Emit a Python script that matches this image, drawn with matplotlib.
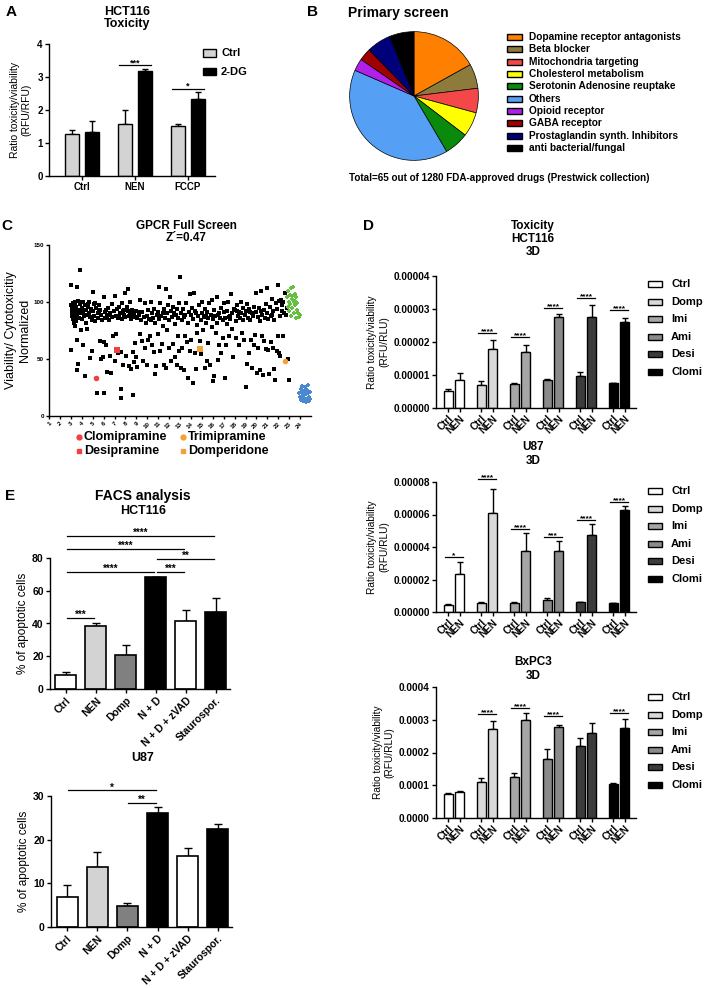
import matplotlib
matplotlib.use("Agg")
import matplotlib.pyplot as plt
from matplotlib.patches import Rectangle
from matplotlib.lines import Line2D
from matplotlib.ticker import FormatStrFormatter
import numpy as np

plt.rcParams['font.family'] = ['Liberation Sans', 'DejaVu Sans']
plt.rcParams['font.weight'] = 'bold'
plt.rcParams['axes.linewidth'] = 1.0

# ---------------- data ----------------
# A: HCT116 toxicity
a_groups = ['Ctrl', 'NEN', 'FCCP']
a_ctrl = [1.28, 1.57, 1.53]
a_ctrl_err = [0.10, 0.43, 0.05]
a_2dg = [1.33, 3.17, 2.32]
a_2dg_err = [0.35, 0.08, 0.22]
a_sig = [(1, 3.35, '***'), (2, 2.65, '*')]

# B: primary screen pie
b_labels = ['Dopamine receptor antagonists', 'Beta blocker', 'Mitochondria targeting',
            'Cholesterol metabolism', 'Serotonin Adenosine reuptake', 'Others',
            'Opioid receptor', 'GABA receptor', 'Prostaglandin synth. Inhibitors',
            'anti bacterial/fungal']
b_counts = [11, 4, 4, 4, 4, 26, 2, 2, 4, 4]
b_colors = ['#FF8000', '#8C7B3A', '#F44848', '#FFFF00', '#0A8A0A', '#55A0F5',
            '#B020E8', '#A00000', '#00007A', '#000000']

# C: GPCR full screen (plate column, normalized viability)
gpcr_hits = [
    (3.0, 115), (3.0, 58), (3.05, 97), (3.1, 92), (3.1, 88), (3.15, 95), (3.2, 85), (3.2, 99),
    (3.25, 90), (3.3, 82), (3.3, 94), (3.35, 87), (3.4, 100), (3.4, 79), (3.45, 92), (3.5, 96),
    (3.5, 84), (3.55, 89), (3.6, 113), (3.6, 40), (3.6, 67), (3.65, 101), (3.7, 46), (3.7, 93),
    (3.75, 86), (3.8, 98), (3.85, 128), (3.9, 90), (3.9, 75), (3.95, 100), (3.15, 91), (3.35, 97),
    (3.55, 93), (3.75, 91), (3.25, 86), (3.45, 83),
    (4.0, 95), (4.05, 85), (4.1, 62), (4.1, 100), (4.15, 91), (4.2, 88), (4.3, 35), (4.3, 97),
    (4.35, 82), (4.4, 93), (4.5, 76), (4.5, 89), (4.6, 96), (4.7, 100), (4.75, 87), (4.8, 51),
    (4.85, 94), (4.9, 57), (4.95, 84), (4.25, 93), (4.55, 98), (4.65, 90),
    (5.0, 109), (5.05, 92), (5.1, 98), (5.15, 88), (5.25, 83), (5.3, 95), (5.4, 20), (5.45, 90),
    (5.5, 86), (5.6, 97), (5.65, 66), (5.7, 93), (5.75, 50), (5.8, 89), (5.9, 84), (5.95, 52),
    (5.2, 99), (5.55, 92),
    (6.0, 20), (6.0, 104), (6.05, 65), (6.1, 91), (6.15, 86), (6.2, 62), (6.3, 88), (6.35, 39),
    (6.4, 95), (6.5, 84), (6.55, 53), (6.6, 90), (6.7, 38), (6.75, 98), (6.8, 87), (6.9, 70),
    (6.95, 92), (6.25, 93), (6.45, 89),
    (7.0, 105), (7.05, 48), (7.1, 88), (7.15, 72), (7.2, 94), (7.3, 86), (7.35, 55), (7.4, 96),
    (7.5, 90), (7.55, 56), (7.6, 24), (7.6, 16), (7.65, 85), (7.7, 99), (7.8, 45), (7.85, 89),
    (7.9, 93), (7.95, 108), (7.45, 87), (7.75, 92),
    (8.0, 87), (8.05, 53), (8.1, 96), (8.2, 92), (8.25, 111), (8.3, 44), (8.35, 88), (8.4, 100),
    (8.5, 85), (8.55, 41), (8.6, 93), (8.7, 18), (8.7, 56), (8.75, 90), (8.8, 47), (8.85, 64),
    (8.9, 87), (8.95, 52), (8.45, 91), (8.65, 89),
    (9.0, 92), (9.05, 43), (9.1, 86), (9.2, 89), (9.3, 102), (9.35, 72), (9.4, 84), (9.5, 66),
    (9.55, 91), (9.6, 48), (9.7, 87), (9.75, 60), (9.8, 99), (9.9, 82), (9.95, 45), (9.25, 91),
    (10.0, 88), (10.05, 67), (10.1, 93), (10.2, 85), (10.25, 70), (10.3, 100), (10.4, 62),
    (10.45, 90), (10.5, 86), (10.6, 56), (10.65, 94), (10.7, 37), (10.75, 82), (10.8, 44),
    (10.9, 89), (10.95, 72), (10.35, 84),
    (11.0, 91), (11.05, 113), (11.1, 85), (11.15, 57), (11.2, 99), (11.3, 88), (11.35, 63),
    (11.4, 79), (11.5, 94), (11.55, 45), (11.6, 86), (11.7, 111), (11.75, 42), (11.8, 90),
    (11.85, 75), (11.9, 97), (11.95, 60), (11.45, 90),
    (12.0, 84), (12.1, 104), (12.15, 48), (12.2, 92), (12.3, 87), (12.35, 63), (12.4, 96),
    (12.5, 81), (12.55, 52), (12.6, 89), (12.7, 45), (12.75, 94), (12.8, 70), (12.85, 86),
    (12.9, 57), (12.95, 99), (12.45, 90),
    (13.0, 122), (13.05, 42), (13.1, 90), (13.15, 84), (13.2, 60), (13.3, 94), (13.35, 40),
    (13.4, 87), (13.5, 70), (13.55, 99), (13.6, 65), (13.7, 82), (13.75, 33), (13.8, 91),
    (13.9, 107), (13.95, 57), (13.45, 89),
    (14.0, 89), (14.05, 67), (14.1, 95), (14.15, 29), (14.2, 85), (14.3, 108), (14.35, 55),
    (14.4, 92), (14.5, 41), (14.55, 80), (14.6, 73), (14.65, 88), (14.75, 97), (14.8, 66),
    (14.9, 84), (14.95, 54), (14.45, 90),
    (15.0, 90), (15.05, 100), (15.1, 75), (15.2, 87), (15.25, 42), (15.3, 94), (15.4, 82),
    (15.45, 48), (15.5, 91), (15.55, 64), (15.6, 86), (15.7, 99), (15.75, 45), (15.8, 89),
    (15.9, 78), (15.95, 102), (15.35, 88),
    (16.0, 85), (16.05, 31), (16.1, 93), (16.15, 35), (16.2, 88), (16.3, 73), (16.35, 104),
    (16.4, 82), (16.5, 49), (16.55, 90), (16.6, 62), (16.7, 86), (16.75, 55), (16.8, 95),
    (16.9, 84), (16.95, 68), (16.45, 89),
    (17.0, 91), (17.05, 99), (17.1, 33), (17.15, 86), (17.2, 62), (17.3, 92), (17.35, 81),
    (17.4, 100), (17.5, 70), (17.55, 88), (17.6, 85), (17.7, 107), (17.75, 76), (17.8, 90),
    (17.9, 52), (17.95, 94), (17.45, 87),
    (18.0, 93), (18.1, 83), (18.15, 68), (18.2, 97), (18.3, 88), (18.4, 62), (18.45, 91),
    (18.5, 86), (18.6, 100), (18.7, 73), (18.75, 84), (18.8, 95), (18.9, 67), (18.95, 89),
    (18.25, 92), (18.55, 90),
    (19.0, 92), (19.05, 25), (19.1, 98), (19.15, 46), (19.2, 86), (19.3, 94), (19.35, 55),
    (19.4, 84), (19.5, 67), (19.55, 90), (19.6, 42), (19.7, 88), (19.75, 62), (19.8, 96),
    (19.9, 71), (19.95, 108), (19.45, 91),
    (20.0, 91), (20.05, 38), (20.1, 87), (20.15, 60), (20.2, 95), (20.3, 40), (20.35, 83),
    (20.4, 110), (20.5, 89), (20.55, 70), (20.6, 36), (20.65, 93), (20.7, 66), (20.8, 86),
    (20.85, 59), (20.9, 98), (20.95, 112), (20.45, 92),
    (21.0, 90), (21.05, 58), (21.1, 85), (21.15, 37), (21.2, 96), (21.3, 65), (21.35, 88),
    (21.4, 103), (21.5, 60), (21.55, 92), (21.6, 41), (21.65, 84), (21.7, 32), (21.8, 99),
    (21.85, 57), (21.9, 94), (21.95, 70), (21.45, 89),
    (22.0, 115), (22.05, 55), (22.1, 101), (22.15, 88), (22.2, 53), (22.3, 97), (22.35, 92),
    (22.4, 70), (22.45, 100), (22.5, 90), (22.6, 108), (22.7, 89), (22.8, 95), (22.9, 50),
    (22.95, 32), (22.25, 102),
]
gpcr_pos_ctrl = [
    (22.8, 104), (22.85, 96), (22.9, 110), (22.95, 100), (23.0, 92), (23.05, 106), (23.1, 98),
    (23.15, 88), (23.2, 112), (23.25, 103), (23.3, 95), (23.35, 113), (23.4, 100), (23.45, 90),
    (23.5, 107), (23.55, 97), (23.6, 104), (23.65, 86), (23.7, 99), (23.75, 93), (23.8, 90),
    (23.9, 87), (24.0, 89), (23.3, 105), (23.5, 101),
]
gpcr_neg_ctrl = [
    (23.9, 20), (24.0, 17), (24.05, 24), (24.1, 14), (24.15, 21), (24.2, 26), (24.25, 18),
    (24.3, 13), (24.35, 22), (24.4, 16), (24.45, 25), (24.5, 19), (24.55, 12), (24.6, 23),
    (24.65, 15), (24.7, 20), (24.75, 27), (24.8, 17), (24.85, 13), (24.9, 21), (24.95, 15),
]
gpcr_named = [('Clomipramine', 5.3, 33, 'o', '#F04040'),
              ('Desipramine', 7.25, 58, 's', '#F04040'),
              ('Trimipramine', 22.6, 48, 'o', '#F5A030'),
              ('Domperidone', 14.8, 58.5, 's', '#F0A040')]

# D: 3D toxicity, Ctrl vs NEN for each drug
d_groups = ['Ctrl', 'Domp', 'Imi', 'Ami', 'Desi', 'Clomi']
d_colors = ['#FFFFFF', '#D9D9D9', '#A6A6A6', '#8A8A8A', '#3C3C3C', '#000000']

hct_ctrl = [0.0000053, 0.0000070, 0.0000073, 0.0000086, 0.0000098, 0.0000075]
hct_ctrl_err = [0.0000005, 0.0000012, 0.0000003, 0.0000003, 0.0000010, 0.0000002]
hct_nen = [0.0000085, 0.0000180, 0.0000170, 0.0000277, 0.0000277, 0.0000261]
hct_nen_err = [0.0000020, 0.0000025, 0.0000022, 0.0000007, 0.0000035, 0.0000013]
hct_sig = [(1, 0.0000226, '****'), (2, 0.0000216, '****'), (3, 0.0000302, '****'),
           (4, 0.0000332, '****'), (5, 0.0000297, '****')]

u87_ctrl = [0.0000045, 0.0000055, 0.0000055, 0.0000071, 0.0000061, 0.0000055]
u87_ctrl_err = [0.0000007, 0.0000008, 0.0000006, 0.0000015, 0.0000003, 0.0000003]
u87_nen = [0.0000233, 0.0000612, 0.0000378, 0.0000378, 0.0000473, 0.0000627]
u87_nen_err = [0.0000073, 0.0000143, 0.0000106, 0.0000059, 0.0000066, 0.0000026]
u87_sig = [(0, 0.0000337, '*'), (1, 0.0000816, '****'), (2, 0.0000508, '****'),
           (3, 0.0000463, '***'), (4, 0.0000565, '****'), (5, 0.0000678, '****')]

bx_ctrl = [0.0000745, 0.000110, 0.000126, 0.000179, 0.000219, 0.000104]
bx_ctrl_err = [0.0000025, 0.000012, 0.000010, 0.000033, 0.000025, 0.000002]
bx_nen = [0.0000800, 0.000273, 0.000298, 0.000277, 0.000259, 0.000276]
bx_nen_err = [0.0000030, 0.000023, 0.000022, 0.000007, 0.000032, 0.000027]
bx_sig = [(1, 0.000318, '****'), (2, 0.000336, '****'), (3, 0.000310, '****'),
          (5, 0.000321, '****')]

# E: FACS analysis
e_labels = ['Ctrl', 'NEN', 'Domp', 'N + D', 'N + D + zVAD', 'Staurospor.']
e_colors = ['#FFFFFF', '#D3D3D3', '#808080', '#000000', '#FFFFFF', '#000000']
e_hct = [8.5, 38.2, 20.7, 68.1, 41.5, 47.2]
e_hct_err = [2.1, 1.8, 6.3, 0.4, 6.7, 8.3]
e_hct_sig = [(0, 1, 43.3, '***'), (0, 3, 71.4, '****'), (3, 4, 71.4, '***'),
             (3, 5, 79.4, '**'), (0, 4, 85.5, '****'), (0, 5, 93.7, '****')]
e_u87 = [6.9, 13.8, 4.7, 26.1, 16.3, 22.5]
e_u87_err = [2.7, 3.4, 0.8, 1.4, 1.8, 1.2]
e_u87_sig = [(0, 3, 31.3, '*'), (2, 3, 28.4, '**')]

# ---------------- layout helpers ----------------
W, H = 709, 988
fig = plt.figure(figsize=(W / 100, H / 100), dpi=100)


def add_ax(l, t, r, b):
    return fig.add_axes([l / W, 1 - b / H, (r - l) / W, (b - t) / H])


def ftext(x, y, s, **kw):
    kw.setdefault('va', 'center')
    return fig.text(x / W, 1 - y / H, s, **kw)


def legend_box(x, y, w, h, color):
    fig.add_artist(Rectangle((x / W, 1 - (y + h / 2) / H), w / W, h / H,
                             transform=fig.transFigure, facecolor=color,
                             edgecolor='black', linewidth=1.0))


def prism(ax, fs=7):
    for s in ['top', 'right']:
        ax.spines[s].set_visible(False)
    ax.tick_params(width=1.0, length=3, labelsize=fs, pad=1.5)


def errbars(ax, x, y, err, capsize=2.5):
    ax.errorbar(x, y, yerr=[np.zeros(len(err)), err], fmt='none', ecolor='black',
                elinewidth=1.0, capsize=capsize, capthick=1.0, zorder=1)


def sig_line(ax, x1, x2, y, stars, fs=6.5, off=-1.5):
    ax.plot([x1, x2], [y, y], color='black', lw=0.9, clip_on=False)
    ax.annotate(stars, ((x1 + x2) / 2, y), xytext=(0, off), textcoords='offset points',
                ha='center', va='bottom', fontsize=fs, annotation_clip=False)


# ---------------- panel A ----------------
ftext(11, 12, 'A', fontsize=11, ha='center')
ftext(127, 18, 'HCT116\nToxicity', fontsize=9, ha='center', linespacing=1.1)
ax = add_ax(49, 44, 215, 176)
xa = np.arange(len(a_groups))
ax.bar(xa - 0.19, a_ctrl, 0.27, color='#D3D3D3', edgecolor='black', lw=1.0, zorder=2)
ax.bar(xa + 0.19, a_2dg, 0.27, color='black', edgecolor='black', lw=1.0, zorder=2)
errbars(ax, xa - 0.19, a_ctrl, a_ctrl_err)
errbars(ax, xa + 0.19, a_2dg, a_2dg_err)
for g, y, s in a_sig:
    sig_line(ax, g - 0.3, g + 0.3, y, s)
ax.set_xlim(-0.62, 2.51)
ax.set_ylim(0, 4)
ax.set_yticks([0, 1, 2, 3, 4])
ax.set_xticks(xa)
ax.set_xticklabels(a_groups, fontsize=7.5)
prism(ax)
ax.set_ylabel('Ratio toxicity/viability\n(RFU/RFU)', fontsize=7.5, fontweight='normal',
              labelpad=4)
legend_box(203, 53, 13, 7, '#D3D3D3')
legend_box(203, 72, 13, 7, 'black')
ftext(221, 53, 'Ctrl', fontsize=8)
ftext(221, 72, '2-DG', fontsize=8)

# ---------------- panel B ----------------
ftext(313, 12, 'B', fontsize=11, ha='center')
ftext(348, 13, 'Primary screen', fontsize=10)
ax = add_ax(349, 31, 479, 161)
ax.pie(b_counts, colors=b_colors, startangle=90, counterclock=False,
       wedgeprops=dict(edgecolor='black', linewidth=0.5))
ax.set_xlim(-1.01, 1.01)
ax.set_ylim(-1.01, 1.01)
ax.set_aspect('equal')
for i, (lab, col) in enumerate(zip(b_labels, b_colors)):
    y = 37 + 12.35 * i
    legend_box(507, y, 15, 6, col)
    ftext(529, y, lab, fontsize=7.3)
ftext(349, 178, 'Total=65 out of 1280 FDA-approved drugs (Prestwick collection)',
      fontsize=7.1)

# ---------------- panel C ----------------
ftext(7, 226, 'C', fontsize=11, ha='center')
ftext(186, 232, 'GPCR Full Screen\nZ\u00b4=0.47', fontsize=8.5, ha='center',
      linespacing=1.05)
ax = add_ax(49, 245, 311, 416)
hx, hy = zip(*gpcr_hits)
ax.scatter(hx, hy, s=5, marker='s', color='black', lw=0, zorder=2)
px, py = zip(*gpcr_pos_ctrl)
ax.scatter(px, py, s=12, marker='P', color='#66C040', lw=0, zorder=2)
nx, ny = zip(*gpcr_neg_ctrl)
ax.scatter(nx, ny, s=12, marker='P', color='#4A88D0', lw=0, zorder=2)
for name, x, y, m, c in gpcr_named:
    ax.scatter([x], [y], s=16, marker=m, color=c, lw=0, zorder=3)
ax.set_xlim(1, 25)
ax.set_ylim(0, 150)
ax.set_xticks(range(1, 25))
ax.set_xticklabels([str(i) for i in range(1, 25)], rotation=45, ha='right',
                   rotation_mode='anchor', fontsize=4.5)
ax.set_yticks([0, 50, 100, 150])
prism(ax, fs=4.5)
ax.tick_params(length=2)
ax.set_ylabel('Viability/ Cytotoxicitiy\nNormalized', fontsize=9, fontweight='normal',
              labelpad=2)
leg_pos = [(79, 437), (79, 451), (183, 437), (183, 451)]
for (name, x, y, m, c), (lx, ly) in zip(gpcr_named, leg_pos):
    fig.add_artist(Line2D([lx / W], [1 - ly / H], marker=m, ms=3.5, color=c, lw=0,
                          transform=fig.transFigure))
    ftext(lx + 5, ly, name, fontsize=9)

# ---------------- panel D ----------------
ftext(368, 226, 'D', fontsize=11, ha='center')


def draw_d(box, ctrl, ctrl_err, nen, nen_err, sigs, ymax, step, fmt, leg_y0):
    ax = add_ax(*box)
    g = np.arange(len(d_groups))
    ax.bar(g - 0.18, ctrl, 0.27, color=d_colors, edgecolor='black', lw=1.0, zorder=2)
    ax.bar(g + 0.18, nen, 0.27, color=d_colors, edgecolor='black', lw=1.0, zorder=2)
    errbars(ax, g - 0.18, ctrl, ctrl_err, capsize=2)
    errbars(ax, g + 0.18, nen, nen_err, capsize=2)
    for gi, y, s in sigs:
        sig_line(ax, gi - 0.28, gi + 0.28, y, s, fs=6)
    ax.set_xlim(-0.545, 5.515)
    ax.set_ylim(0, ymax)
    ax.set_yticks(np.arange(0, ymax + step / 2, step))
    ax.yaxis.set_major_formatter(FormatStrFormatter(fmt))
    ticks = np.ravel(np.column_stack([g - 0.18, g + 0.18]))
    ax.set_xticks(ticks)
    ax.set_xticklabels(['Ctrl', 'NEN'] * len(d_groups), rotation=45, ha='right',
                       rotation_mode='anchor', fontsize=6.8)
    prism(ax, fs=7.2)
    ax.tick_params(axis='x', pad=1)
    ax.set_ylabel('Ratio toxicity/viability\n(RFU/RLU)', fontsize=7.3, labelpad=3)
    for i, (lab, col) in enumerate(zip(d_groups, d_colors)):
        y = leg_y0 + 17.6 * i
        legend_box(648, y, 14, 6, col)
        ftext(671, y, lab, fontsize=8)
    return ax


ftext(533, 239, 'Toxicity\nHCT116\n3D', fontsize=8.5, ha='center', linespacing=1.15)
draw_d((436, 276, 636, 408), hct_ctrl, hct_ctrl_err, hct_nen, hct_nen_err, hct_sig,
       0.00004, 0.00001, '%.5f', 284)
ftext(533, 454, 'U87\n3D', fontsize=8.5, ha='center', linespacing=1.15)
draw_d((436, 482, 636, 612), u87_ctrl, u87_ctrl_err, u87_nen, u87_nen_err, u87_sig,
       0.00008, 0.00002, '%.5f', 491)
ftext(533, 669, 'BxPC3\n3D', fontsize=8.5, ha='center', linespacing=1.15)
draw_d((436, 687, 636, 818), bx_ctrl, bx_ctrl_err, bx_nen, bx_nen_err, bx_sig,
       0.0004, 0.0001, '%.4f', 697)

# ---------------- panel E ----------------
ftext(10, 496, 'E', fontsize=11, ha='center')
ftext(143, 496, 'FACS analysis', fontsize=10, ha='center')
ftext(143, 511, 'HCT116', fontsize=9, ha='center')
ftext(143, 758, 'U87', fontsize=9, ha='center')


def draw_e(box, vals, errs, sigs, ymax, step):
    ax = add_ax(*box)
    x = np.arange(len(e_labels))
    ax.bar(x, vals, 0.7, color=e_colors, edgecolor='black', lw=1.2, zorder=2)
    errbars(ax, x, vals, errs, capsize=3)
    for i, j, y, s in sigs:
        sig_line(ax, i + 0.03, j - 0.05, y, s, fs=7)
    ax.set_xlim(-0.533, 5.47)
    ax.set_ylim(0, ymax)
    ax.set_yticks(np.arange(0, ymax + step / 2, step))
    ax.set_xticks(x)
    ax.set_xticklabels(e_labels, rotation=45, ha='right', rotation_mode='anchor',
                       fontsize=7)
    prism(ax, fs=7.5)
    ax.set_ylabel('% of apoptotic cells', fontsize=8.5, fontweight='normal', labelpad=2)
    return ax


draw_e((50, 558, 230, 689), e_hct, e_hct_err, e_hct_sig, 80, 20)
draw_e((51, 796, 232, 927), e_u87, e_u87_err, e_u87_sig, 30, 10)

fig.savefig('out.png', dpi=100)
